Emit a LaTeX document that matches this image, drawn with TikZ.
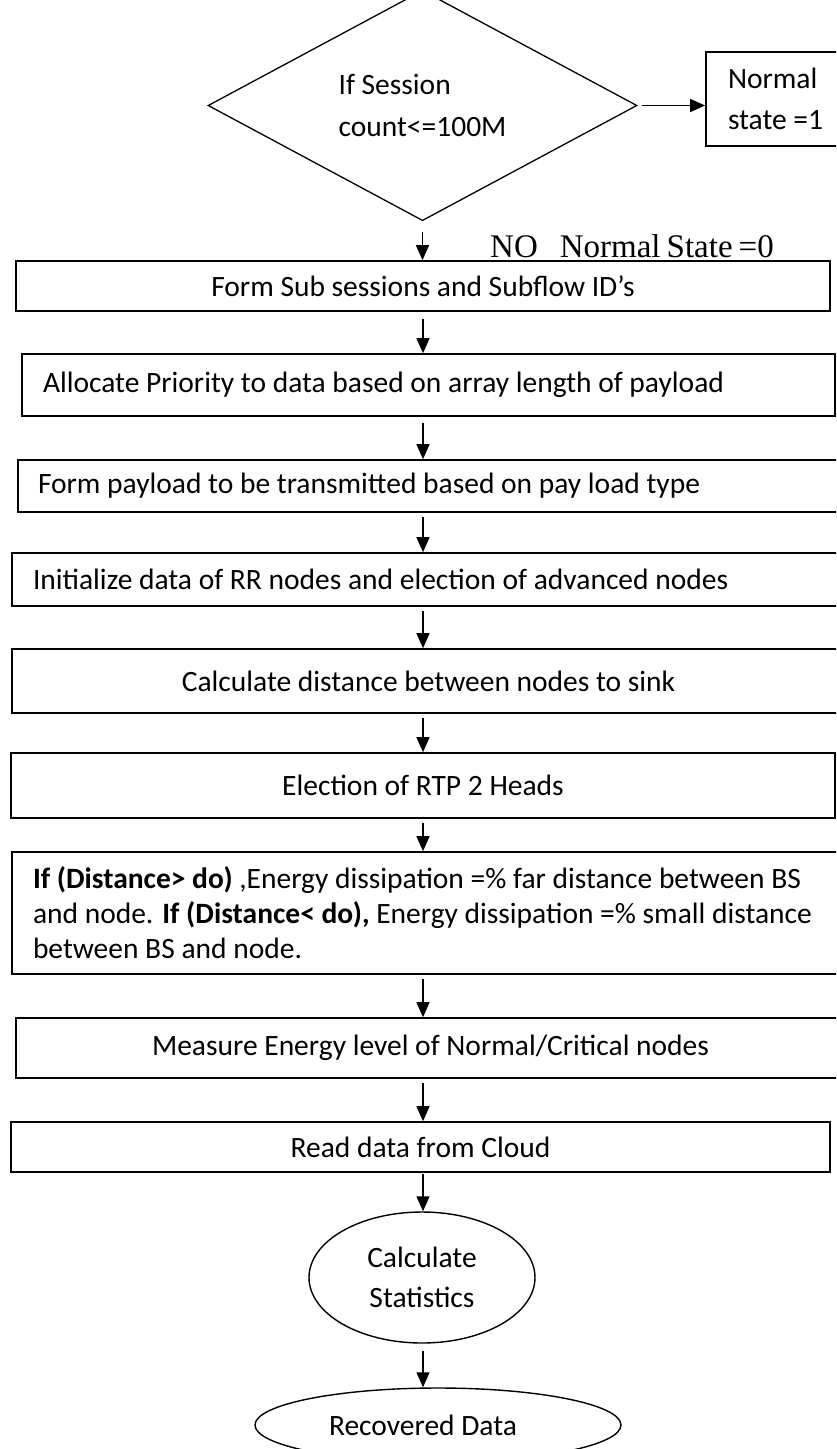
\documentclass[tikz,border=0pt]{standalone}
\usepackage{fontspec}
\setmainfont{Carlito}
\newfontfamily\timesfont{Liberation Serif}
\usetikzlibrary{shapes.geometric,arrows.meta}
\begin{document}
\begin{tikzpicture}[x=1pt,y=-1pt,
  every node/.style={font=\fontsize{29.5}{35}\selectfont},
  box/.style={draw,line width=1.6pt,rectangle,inner sep=0pt},
  lbox/.style={box,align=flush left},
  cbox/.style={box,align=center},
  dec/.style={draw,line width=1.3pt,diamond,inner sep=0pt,align=flush left,font=\fontsize{29.5}{42}\selectfont},
  oval/.style={draw,line width=1.4pt,ellipse,inner sep=0pt,align=center},
  arr/.style={line width=1.4pt,-{Triangle[length=15pt,width=13pt]},shorten <=4pt},
  notext/.style={font=\timesfont\fontsize{33}{38}\selectfont}
]
\clip (0,0) rectangle (836,1449);
\coordinate (axis) at (423,0);
% decision
\node[dec,minimum width=429pt,minimum height=187pt] (d) at (422.5,105.5) {If Session\\count<=100M};
\node[lbox,minimum width=144pt,minimum height=94pt,text width=100pt,font=\fontsize{29.5}{41}\selectfont] (ns) at (778,99) {Normal\\state =1};
% process boxes
\node[cbox,minimum width=814pt,minimum height=50pt] (b1) at (423,286) {Form Sub sessions and Subflow ID’s};
\node[lbox,minimum width=813pt,minimum height=62pt,text width=771pt] (b2) at (428.5,385) {Allocate Priority to data based on array length of payload};
\node[lbox,minimum width=827pt,minimum height=52pt,text width=787pt] (b3) at (431.5,486) {Form payload to be transmitted based on pay load type};
\node[lbox,minimum width=833pt,minimum height=53pt,text width=791pt] (b4) at (428.5,579.5) {Initialize data of RR nodes and election of advanced nodes};
\node[cbox,minimum width=833pt,minimum height=64pt] (b5) at (428.5,681) {Calculate distance between nodes to sink};
\node[cbox,minimum width=824pt,minimum height=65pt] (b6) at (423,785.5) {Election of RTP 2 Heads};
\node[lbox,minimum width=833pt,minimum height=122pt,text width=791pt] (b7) at (428.5,913) {\textbf{If (Distance> do)} ,Energy dissipation =\% far distance between BS\\and node. \textbf{If (Distance< do),} Energy dissipation =\% small distance\\between BS and node.};
\node[cbox,minimum width=829pt,minimum height=60pt] (b8) at (430.5,1048) {Measure Energy level of Normal/Critical nodes};
\node[cbox,minimum width=819pt,minimum height=50pt] (b9) at (420.5,1147) {Read data from Cloud};
\node[oval,minimum width=226pt,minimum height=131pt,font=\fontsize{29.5}{40}\selectfont] (e1) at (422,1277.5) {Calculate\\Statistics};
\node[oval,minimum width=366pt,minimum height=74pt] (e2) at (438,1425) {\hspace*{-30pt}Recovered Data};
% label
\node[notext,anchor=base west,inner sep=0pt] (no) at (490,257) {NO\hspace{22pt}Normal\hspace{6pt}State\hspace{6pt}=0};
% connectors
\draw[arr] (d.east) -- (ns.west |- d.east);
\draw[arr,shorten <=11pt] (d.south) -- (b1.north -| d.south);
\draw[arr,shorten <=7pt] (b1.south -| axis) -- (b2.north -| axis);
\draw[arr,shorten <=6pt] (b2.south -| axis) -- (b3.north -| axis);
\draw[arr] (b3.south -| axis) -- (b4.north -| axis);
\draw[arr] (b4.south -| axis) -- (b5.north -| axis);
\draw[arr] (b5.south -| axis) -- (b6.north -| axis);
\draw[arr] (b6.south -| axis) -- (b7.north -| axis);
\draw[arr] (b7.south -| axis) -- (b8.north -| axis);
\draw[arr] (b8.south -| axis) -- (b9.north -| axis);
\draw[arr,shorten <=1pt] (b9.south -| axis) -- (e1.north -| axis);
\draw[arr,shorten <=7pt] (e1.south -| axis) -- (e2.north -| axis);
\end{tikzpicture}
\end{document}
